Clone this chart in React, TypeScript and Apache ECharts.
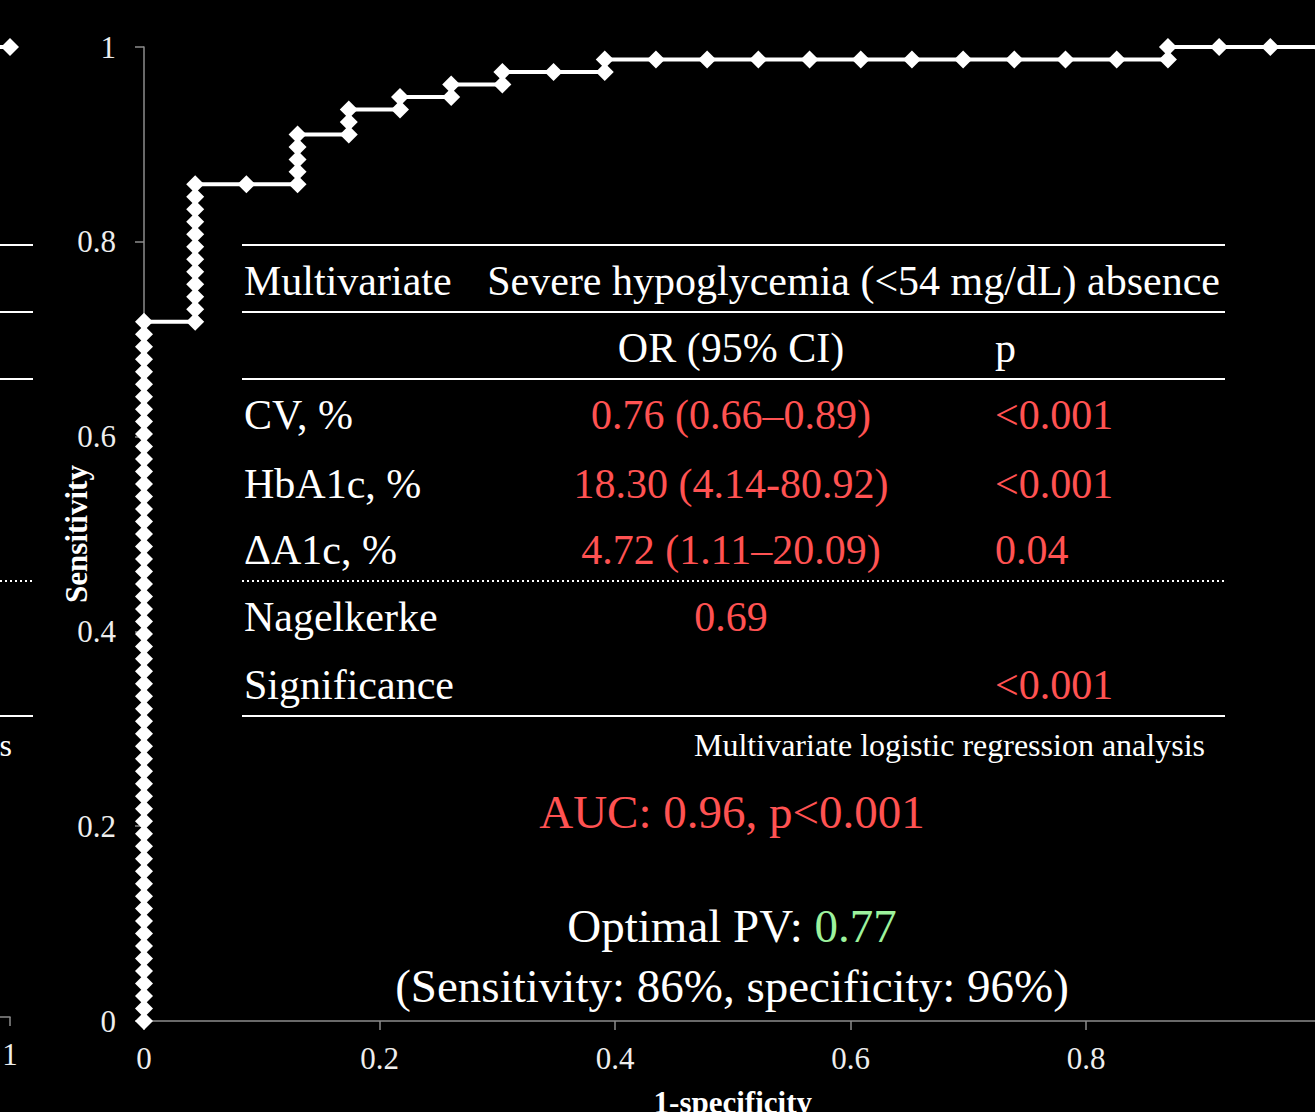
import React, { useEffect, useRef } from "react";
import * as echarts from "echarts";

// ROC curve: counts of false positives (of 23 negatives) and true positives (of 78 positives)
const N_NEG = 23;
const N_POS = 78;
const fpCounts = [
  0, 0, 0, 0, 0, 0, 0, 0, 0, 0,
  0, 0, 0, 0, 0, 0, 0, 0, 0, 0,
  0, 0, 0, 0, 0, 0, 0, 0, 0, 0,
  0, 0, 0, 0, 0, 0, 0, 0, 0, 0,
  0, 0, 0, 0, 0, 0, 0, 0, 0, 0,
  0, 0, 0, 0, 0, 0, 0,
  1, 1, 1, 1, 1, 1, 1, 1, 1, 1, 1, 1,
  2,
  3, 3, 3, 3, 3,
  4, 4, 4,
  5, 5,
  6, 6,
  7, 7,
  8,
  9, 9,
  10, 11, 12, 13, 14, 15, 16, 17, 18, 19,
  20, 20,
  21, 22, 23,
];
const tpCounts = [
  0, 1, 2, 3, 4, 5, 6, 7, 8, 9,
  10, 11, 12, 13, 14, 15, 16, 17, 18, 19,
  20, 21, 22, 23, 24, 25, 26, 27, 28, 29,
  30, 31, 32, 33, 34, 35, 36, 37, 38, 39,
  40, 41, 42, 43, 44, 45, 46, 47, 48, 49,
  50, 51, 52, 53, 54, 55, 56,
  56, 57, 58, 59, 60, 61, 62, 63, 64, 65, 66, 67,
  67,
  67, 68, 69, 70, 71,
  71, 72, 73,
  73, 74,
  74, 75,
  75, 76,
  76,
  76, 77,
  77, 77, 77, 77, 77, 77, 77, 77, 77, 77,
  77, 78,
  78, 78, 78,
];

// neighbouring (cropped) panel on the left edge
const leftPanelX = [0.96, 1];
const leftPanelY = [1, 1];

const xTicks = [0, 0.2, 0.4, 0.6, 0.8, 1];
const yTicks = [0, 0.2, 0.4, 0.6, 0.8, 1];

// table contents
const tableTitle = ["Multivariate", "Severe hypoglycemia (<54 mg/dL) absence"];
const tableHeader = ["OR (95% CI)", "p"];
const rowLabels = ["CV, %", "HbA1c, %", "ΔA1c, %"];
const rowOR = ["0.76 (0.66–0.89)", "18.30 (4.14-80.92)", "4.72 (1.11–20.09)"];
const rowP = ["<0.001", "<0.001", "0.04"];
const nagelkerke = "0.69";
const significance = "<0.001";
const tableNote = "Multivariate logistic regression analysis";
const aucText = "AUC: 0.96, p<0.001";
const optimalPV = "0.77";
const senSpecText = "(Sensitivity: 86%, specificity: 96%)";

const FONT = '"Liberation Serif", "Times New Roman", serif';
const RED = "#ff5252";
const GREEN = "#9df29d";
const AXIS = "#8c8c8c";

function txt(text: string, x: number, y: number, size: number, fill: string, align = "left") {
  return {
    type: "text",
    x,
    y,
    silent: true,
    style: {
      text,
      fill,
      fontSize: size,
      fontFamily: FONT,
      align,
      verticalAlign: "middle",
    },
  };
}

function hline(y: number, x1: number, x2: number, dotted = false) {
  return {
    type: "line",
    silent: true,
    shape: { x1, y1: y, x2, y2: y },
    style: { stroke: "#ffffff", lineWidth: 2, lineDash: dotted ? [2, 3] : null },
  };
}

export default function App() {
  const ref = useRef<HTMLDivElement>(null);

  useEffect(() => {
    document.body.style.margin = "0";
    document.body.style.background = "#000";
    if (!ref.current) return;
    const chart = echarts.init(ref.current, null, { renderer: "svg" });

    const roc = fpCounts.map((f, i) => [f / N_NEG, tpCounts[i] / N_POS]);
    const left = leftPanelX.map((x, i) => [x, leftPanelY[i]]);

    const rowYs = [415, 484, 550];
    const TS = 42;
    const graphics: any[] = [
      // left cropped panel's table rules
      hline(245, 0, 33),
      hline(312, 0, 33),
      hline(379, 0, 33),
      hline(581, 0, 33, true),
      hline(716, 0, 33),
      txt("s", 12, 745, 32, "#ffffff", "right"),
      // table
      hline(245, 242, 1225),
      hline(312, 242, 1225),
      hline(379, 242, 1225),
      hline(581, 242, 1225, true),
      hline(716, 242, 1225),
      txt(tableTitle[0], 244, 281, TS, "#ffffff"),
      txt(tableTitle[1], 1220, 281, TS, "#ffffff", "right"),
      txt(tableHeader[0], 731, 348, TS, "#ffffff", "center"),
      txt(tableHeader[1], 995, 348, TS, "#ffffff"),
      txt("Nagelkerke", 244, 617, TS, "#ffffff"),
      txt(nagelkerke, 731, 617, TS, RED, "center"),
      txt("Significance", 244, 685, TS, "#ffffff"),
      txt(significance, 995, 685, TS, RED),
      txt(tableNote, 1205, 745, 32, "#ffffff", "right"),
      txt(aucText, 732, 812, 47, RED, "center"),
      {
        type: "text",
        x: 732,
        y: 926,
        silent: true,
        style: {
          text: "{w|Optimal PV: }{g|" + optimalPV + "}",
          align: "center",
          verticalAlign: "middle",
          fontSize: 47,
          fontFamily: FONT,
          rich: {
            w: { fill: "#ffffff", fontSize: 47, fontFamily: FONT },
            g: { fill: GREEN, fontSize: 47, fontFamily: FONT },
          },
        },
      },
      txt(senSpecText, 732, 986, 47, "#ffffff", "center"),
    ];
    rowLabels.forEach((l, i) => {
      graphics.push(txt(l, 244, rowYs[i], TS, "#ffffff"));
      graphics.push(txt(rowOR[i], 731, rowYs[i], TS, RED, "center"));
      graphics.push(txt(rowP[i], 995, rowYs[i], TS, RED));
    });

    const axisLabel = { color: "#eeeeee", fontSize: 31, fontFamily: FONT };

    chart.setOption({
      animation: false,
      backgroundColor: "#000000",
      grid: [
        { left: 144, top: 47, width: 1177.5, height: 974, containLabel: false, outerBoundsMode: "none" },
        { left: -1167, top: 47, width: 1177, height: 970, containLabel: false, outerBoundsMode: "none" },
      ],
      xAxis: [
        {
          gridIndex: 0,
          type: "value",
          min: 0,
          max: 1,
          interval: 0.2,
          name: "1-specificity",
          nameLocation: "middle",
          nameGap: 66,
          nameMoveOverlap: false,
          nameTextStyle: { color: "#ffffff", fontSize: 31, fontWeight: "bold", fontFamily: FONT },
          axisLine: { show: true, lineStyle: { color: AXIS, width: 1.5 } },
          axisTick: { show: true, length: 9, lineStyle: { color: AXIS, width: 1.5 } },
          axisLabel: {
            ...axisLabel,
            margin: 22,
            showMaxLabel: false,
            formatter: (v: number) => String(xTicks.find((t) => Math.abs(t - v) < 1e-9) ?? v),
          },
          splitLine: { show: false },
        },
        {
          gridIndex: 1,
          type: "value",
          min: 0,
          max: 1,
          interval: 0.2,
          axisLine: { show: true, lineStyle: { color: AXIS, width: 1.5 } },
          axisTick: { show: true, length: 9, lineStyle: { color: AXIS, width: 1.5 } },
          axisLabel: { ...axisLabel, margin: 22 },
          splitLine: { show: false },
        },
      ],
      yAxis: [
        {
          gridIndex: 0,
          type: "value",
          min: 0,
          max: 1,
          interval: 0.2,
          name: "Sensitivity",
          nameLocation: "middle",
          nameGap: 52,
          nameMoveOverlap: false,
          nameTextStyle: { color: "#ffffff", fontSize: 31, fontWeight: "bold", fontFamily: FONT },
          axisLine: { show: true, lineStyle: { color: AXIS, width: 1.5 } },
          axisTick: { show: true, length: 9, lineStyle: { color: AXIS, width: 1.5 } },
          axisLabel: { ...axisLabel, margin: 28, formatter: (v: number) => String(yTicks.find((t) => Math.abs(t - v) < 1e-9) ?? v) },
          splitLine: { show: false },
        },
        {
          gridIndex: 1,
          type: "value",
          min: 0,
          max: 1,
          show: false,
          splitLine: { show: false },
        },
      ],
      series: [
        {
          type: "line",
          xAxisIndex: 0,
          yAxisIndex: 0,
          data: roc,
          clip: false,
          symbol: "diamond",
          symbolSize: 18,
          showAllSymbol: true,
          lineStyle: { color: "#ffffff", width: 4 },
          itemStyle: { color: "#ffffff" },
        },
        {
          type: "line",
          xAxisIndex: 1,
          yAxisIndex: 1,
          data: left,
          clip: false,
          symbol: "diamond",
          symbolSize: 18,
          showAllSymbol: true,
          lineStyle: { color: "#ffffff", width: 4 },
          itemStyle: { color: "#ffffff" },
        },
      ],
      graphic: graphics,
    });

    return () => chart.dispose();
  }, []);

  return <div ref={ref} style={{ width: 1315, height: 1112, background: "#000" }} />;
}
